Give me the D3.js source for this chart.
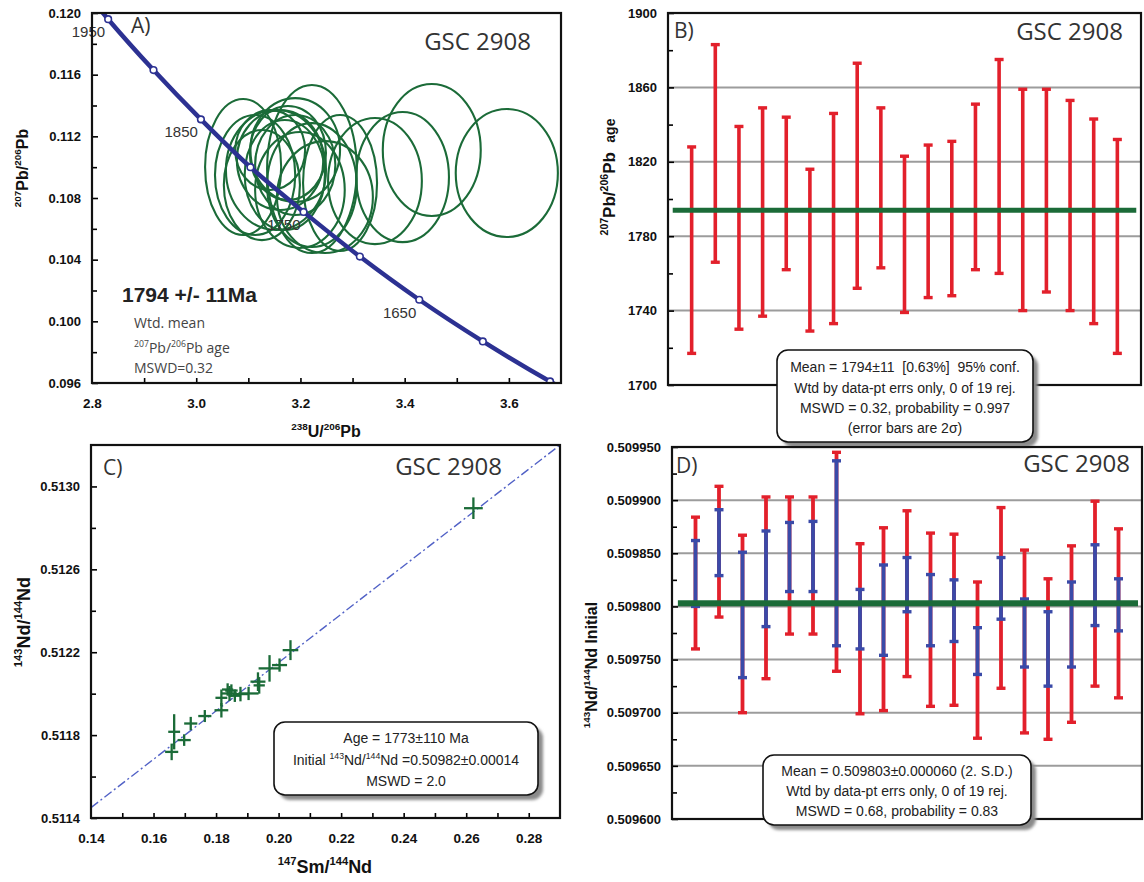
<!DOCTYPE html>
<html><head><meta charset="utf-8">
<script src="https://cdn.jsdelivr.net/npm/d3@7"></script>
<style>html,body{margin:0;padding:0;background:#fff;} svg{display:block;}</style>
</head><body>
<svg id="chart" width="1144" height="882"></svg>
<script>
// ================= DATA =================
// Panel A — concordia curve and age markers
const concordiaAges = [2000, 1950, 1900, 1850, 1800, 1750, 1700, 1650, 1600, 1550, 1500];
const concordiaX = [2.749, 2.831, 2.918, 3.009, 3.104, 3.206, 3.314, 3.428, 3.550, 3.679, 3.817];
const concordiaY = [0.1230, 0.1196, 0.1163, 0.1131, 0.1100, 0.1071, 0.1042, 0.1014, 0.0987, 0.0961, 0.0936];
const concordiaMarkerAges = [1950, 1900, 1850, 1800, 1750, 1700, 1650, 1600, 1550];
const concordiaLabelAges = [1950, 1850, 1750, 1650];
// Panel A — error ellipses (centre and semi-axes, in data units)
const ellCX = [3.596, 3.452, 3.396, 3.343, 3.276, 3.222, 3.090, 3.113, 3.126, 3.153, 3.161, 3.176, 3.170, 3.190, 3.199, 3.222, 3.247, 3.142, 3.190];
const ellCY = [0.10962, 0.11111, 0.10936, 0.10910, 0.10897, 0.10988, 0.11001, 0.10949, 0.10884, 0.10982, 0.11046, 0.11092, 0.10949, 0.11014, 0.10852, 0.10884, 0.10806, 0.11111, 0.11111];
const ellRX = [0.098, 0.094, 0.089, 0.090, 0.071, 0.086, 0.073, 0.077, 0.073, 0.096, 0.083, 0.073, 0.077, 0.077, 0.086, 0.086, 0.092, 0.067, 0.086];
const ellRY = [0.00415, 0.00428, 0.00422, 0.00409, 0.00441, 0.00545, 0.00441, 0.00389, 0.00357, 0.00389, 0.00324, 0.00305, 0.00357, 0.00324, 0.00376, 0.00402, 0.00363, 0.00259, 0.00337];
const aYTicks = [0.096, 0.100, 0.104, 0.108, 0.112, 0.116, 0.120];
const aYMinor = [0.098, 0.102, 0.106, 0.110, 0.114, 0.118];
const aXTicks = [2.8, 3.0, 3.2, 3.4, 3.6];
const aXMinor = [2.9, 3.0, 3.1, 3.2, 3.3, 3.4, 3.5, 3.6];
const aMeanAge = "1794 +/- 11Ma";

// Panel B — 207Pb/206Pb ages, 2σ error bars
const bHigh = [1828, 1883, 1839, 1849, 1844, 1816, 1846, 1873, 1849, 1823, 1829, 1831, 1851, 1875, 1859, 1859, 1853, 1843, 1832];
const bLow  = [1717, 1766, 1730, 1737, 1762, 1729, 1733, 1752, 1763, 1739, 1747, 1748, 1762, 1760, 1740, 1750, 1740, 1733, 1717];
const bMean = 1794;
const bYTicks = [1700, 1740, 1780, 1820, 1860, 1900];
const bYMinor = [1720, 1760, 1800, 1840, 1880];
const bGrid = [1740, 1780, 1820, 1860];

// Panel C — Sm–Nd isochron data
const cSmNd  = [0.2623, 0.2038, 0.2003, 0.1971, 0.1934, 0.1904, 0.1878, 0.1843, 0.1849, 0.1817, 0.1817, 0.1764, 0.1719, 0.1698, 0.1666, 0.1658, 0.1837, 0.1860, 0.1938];
const cNdNd  = [0.512895, 0.512210, 0.512138, 0.512122, 0.512058, 0.512001, 0.511998, 0.512001, 0.512015, 0.511980, 0.511920, 0.511892, 0.511856, 0.511776, 0.511816, 0.511719, 0.512020, 0.511990, 0.512040];
const cSmErr = [0.0030, 0.0025, 0.0024, 0.0035, 0.0024, 0.0032, 0.0024, 0.0024, 0.0020, 0.0019, 0.0022, 0.0021, 0.0021, 0.0021, 0.0019, 0.0021, 0.0018, 0.0020, 0.0018];
const cNdErr = [0.000052, 0.000048, 0.000032, 0.000064, 0.000045, 0.000032, 0.000035, 0.000036, 0.000030, 0.000040, 0.000035, 0.000029, 0.000032, 0.000028, 0.000085, 0.000040, 0.000030, 0.000030, 0.000040];
const isochronX = [0.14, 0.29];
const isochronY = [0.51145, 0.51320];
const cXTicks = [0.14, 0.16, 0.18, 0.20, 0.22, 0.24, 0.26, 0.28];
const cXMinor = [0.15, 0.16, 0.17, 0.18, 0.19, 0.20, 0.21, 0.22, 0.23, 0.24, 0.25, 0.26, 0.27, 0.28];
const cYTicks = [0.5114, 0.5118, 0.5122, 0.5126, 0.5130];
const cYMinor = [0.5116, 0.5120, 0.5124, 0.5128];

// Panel D — initial 143Nd/144Nd, red = outer errors, blue = inner errors
const dRedHigh  = [0.509884, 0.509913, 0.509867, 0.509903, 0.509903, 0.509903, 0.509945, 0.509859, 0.509874, 0.509890, 0.509869, 0.509868, 0.509823, 0.509893, 0.509853, 0.509826, 0.509857, 0.509899, 0.509873];
const dRedLow   = [0.509760, 0.509790, 0.509700, 0.509732, 0.509774, 0.509774, 0.509739, 0.509699, 0.509702, 0.509734, 0.509706, 0.509707, 0.509676, 0.509723, 0.509681, 0.509675, 0.509691, 0.509725, 0.509714];
const dBlueHigh = [0.509862, 0.509891, 0.509851, 0.509871, 0.509879, 0.509880, 0.509937, 0.509816, 0.509839, 0.509846, 0.509830, 0.509825, 0.509780, 0.509846, 0.509807, 0.509795, 0.509823, 0.509858, 0.509826];
const dBlueLow  = [0.509800, 0.509829, 0.509733, 0.509781, 0.509814, 0.509814, 0.509763, 0.509760, 0.509754, 0.509795, 0.509763, 0.509767, 0.509736, 0.509788, 0.509743, 0.509725, 0.509743, 0.509782, 0.509777];
const dMean = 0.509803;
const dYTicks = [0.509600, 0.509650, 0.509700, 0.509750, 0.509800, 0.509850, 0.509900, 0.509950];
const dYMinor = [0.509625, 0.509675, 0.509725, 0.509775, 0.509825, 0.509875, 0.509925];
const dGrid = [0.509650, 0.509700, 0.509750, 0.509800, 0.509850, 0.509900];

const sampleName = "GSC 2908";

// ================= STYLE =================
const F1 = "'Liberation Sans', Arial, sans-serif";
const F2 = "'Open Sans', 'Noto Sans', sans-serif";
const RED = "#e2202b", BLUE = "#3a4aa8", GREEN = "#1b6b38", NAVY = "#2c3192", GRID = "#9c9c9c";

const svg = d3.select("#chart");
const defs = svg.append("defs");
defs.append("filter").attr("id", "blur").attr("x", "-10%").attr("y", "-10%").attr("width", "130%").attr("height", "140%")
  .append("feGaussianBlur").attr("stdDeviation", 1.6);

function rich(text, parts, fs) {
  let cur = 0;
  parts.forEach(p => {
    const target = p.sup ? -fs * 0.42 : 0;
    const ts = text.append("tspan").text(p.t).attr("dy", target - cur);
    if (p.sup) ts.attr("font-size", fs * 0.62);
    if (p.fs) ts.attr("font-size", p.fs);
    if (p.w) ts.attr("font-weight", p.w);
    cur = target;
  });
  return text;
}

function yAxis(g, scale, x0, majors, minors, fmt) {
  const a = g.append("g").attr("transform", `translate(${x0},0)`)
    .call(d3.axisLeft(scale).tickValues(majors).tickFormat(fmt).tickSize(-6).tickPadding(11));
  a.select(".domain").remove();
  a.attr("font-family", F1).attr("font-size", 13).attr("font-weight", "bold");
  a.selectAll("text").attr("fill", "#111");
  a.selectAll("line").attr("stroke-width", 1.6);
  const m = g.append("g").attr("transform", `translate(${x0},0)`)
    .call(d3.axisLeft(scale).tickValues(minors).tickFormat("").tickSize(-5));
  m.select(".domain").remove();
  m.selectAll("line").attr("stroke-width", 1.6);
}
function xAxis(g, scale, y0, majors, minors, fmt) {
  const m = g.append("g").attr("transform", `translate(0,${y0})`)
    .call(d3.axisBottom(scale).tickValues(minors).tickFormat("").tickSize(-5));
  m.select(".domain").remove();
  m.selectAll("line").attr("stroke-width", 1.6);
  const a = g.append("g").attr("transform", `translate(0,${y0})`)
    .call(d3.axisBottom(scale).tickValues(majors).tickFormat(fmt).tickSize(0).tickPadding(15));
  a.select(".domain").remove();
  a.attr("font-family", F1).attr("font-size", 13.5).attr("font-weight", "bold");
  a.selectAll("text").attr("fill", "#111");
}
function frame(g, xs, ys) {
  const [x0, x1] = xs.range(), [y0, y1] = ys.range();
  g.append("rect").attr("x", Math.min(x0, x1)).attr("y", Math.min(y0, y1))
    .attr("width", Math.abs(x1 - x0)).attr("height", Math.abs(y1 - y0))
    .attr("fill", "none").attr("stroke", "#111").attr("stroke-width", 2.2);
}
function label(g, x, y, t, anchor) {
  g.append("text").attr("x", x).attr("y", y).attr("text-anchor", anchor || "start")
    .attr("font-family", F2).attr("font-size", 24).attr("fill", "#333").text(t);
}
function letter(g, x, y, t) {
  g.append("text").attr("x", x).attr("y", y).attr("font-family", F2)
    .attr("font-size", 21).attr("fill", "#333").text(t);
}
function infoBox(g, x0, y0, x1, y1, lines, baselines) {
  g.append("rect").attr("x", x0 + 5).attr("y", y0 + 5).attr("width", x1 - x0).attr("height", y1 - y0)
    .attr("rx", 11).attr("fill", "#8a8a8a").attr("filter", "url(#blur)");
  g.append("rect").attr("x", x0).attr("y", y0).attr("width", x1 - x0).attr("height", y1 - y0)
    .attr("rx", 11).attr("fill", "#fff").attr("stroke", "#111").attr("stroke-width", 1.6);
  lines.forEach((parts, i) => {
    const t = g.append("text").attr("x", (x0 + x1) / 2).attr("y", baselines[i]).attr("text-anchor", "middle")
      .attr("font-family", F1).attr("font-size", 14).attr("fill", "#222").style("white-space", "pre");
    rich(t, parts, 14);
  });
}
function errBar(g, x, yHi, yLo, color, cap, w) {
  g.append("line").attr("x1", x).attr("x2", x).attr("y1", yHi).attr("y2", yLo).attr("stroke", color).attr("stroke-width", w);
  [yHi, yLo].forEach(y => g.append("line").attr("x1", x - cap).attr("x2", x + cap).attr("y1", y).attr("y2", y)
    .attr("stroke", color).attr("stroke-width", 3.4));
}

// ================= PANEL A =================
{
  const g = svg.append("g");
  const x = d3.scaleLinear().domain([2.8, 3.7]).range([92, 561]);
  const y = d3.scaleLinear().domain([0.096, 0.120]).range([383, 13]);
  defs.append("clipPath").attr("id", "clipA").append("rect").attr("x", 92).attr("y", 13).attr("width", 469).attr("height", 370);
  const pg = g.append("g").attr("clip-path", "url(#clipA)");

  // ellipses
  pg.selectAll("ellipse").data(d3.range(ellCX.length)).join("ellipse")
    .attr("cx", i => x(ellCX[i])).attr("cy", i => y(ellCY[i]))
    .attr("rx", i => x(ellCX[i] + ellRX[i]) - x(ellCX[i]))
    .attr("ry", i => y(ellCY[i]) - y(ellCY[i] + ellRY[i]))
    .attr("fill", "none").attr("stroke", GREEN).attr("stroke-width", 2.1);

  // concordia
  const pts = concordiaAges.map((a, i) => ({ a, x: concordiaX[i], y: concordiaY[i] }));
  pg.append("path").datum(pts)
    .attr("d", d3.line().x(d => x(d.x)).y(d => y(d.y)).curve(d3.curveCatmullRom))
    .attr("fill", "none").attr("stroke", NAVY).attr("stroke-width", 4.5);
  pg.selectAll("circle").data(pts.filter(d => concordiaMarkerAges.includes(d.a))).join("circle")
    .attr("cx", d => x(d.x)).attr("cy", d => y(d.y)).attr("r", 3.3)
    .attr("fill", "#fff").attr("stroke", NAVY).attr("stroke-width", 1.6);
  g.selectAll("text.age").data(pts.filter(d => concordiaLabelAges.includes(d.a))).join("text")
    .attr("class", "age").attr("x", d => x(d.x) - 3).attr("y", d => y(d.y) + 18).attr("text-anchor", "end")
    .attr("font-family", F1).attr("font-size", 15).attr("fill", "#333").text(d => d.a);

  yAxis(g, y, 92, aYTicks, aYMinor, d3.format(".3f"));
  xAxis(g, x, 383, aXTicks, aXMinor, d3.format(".1f"));
  frame(g, x, y);

  letter(g, 131, 33, "A)");
  label(g, 531, 50, sampleName, "end");
  g.append("text").attr("x", 122).attr("y", 302).attr("font-family", F1).attr("font-weight", "bold")
    .attr("font-size", 21).attr("fill", "#222").text(aMeanAge);
  g.append("text").attr("x", 134).attr("y", 328).attr("font-family", F2).attr("font-size", 14).attr("fill", "#444").text("Wtd. mean");
  rich(g.append("text").attr("x", 134).attr("y", 353).attr("font-family", F2).attr("font-size", 14).attr("fill", "#444"),
    [{ t: "207", sup: true }, { t: "Pb/" }, { t: "206", sup: true }, { t: "Pb age" }], 14);
  g.append("text").attr("x", 134).attr("y", 373).attr("font-family", F2).attr("font-size", 14).attr("fill", "#444").text("MSWD=0.32");

  rich(g.append("text").attr("transform", "translate(28,168) rotate(-90)").attr("text-anchor", "middle")
    .attr("font-family", F1).attr("font-weight", "bold").attr("font-size", 16).attr("fill", "#111"),
    [{ t: "207", sup: true }, { t: "Pb/" }, { t: "206", sup: true }, { t: "Pb" }], 16);
  rich(g.append("text").attr("x", 326).attr("y", 437).attr("text-anchor", "middle")
    .attr("font-family", F1).attr("font-weight", "bold").attr("font-size", 16).attr("fill", "#111"),
    [{ t: "238", sup: true }, { t: "U/" }, { t: "206", sup: true }, { t: "Pb" }], 16);
}

// ================= PANEL B =================
{
  const g = svg.append("g");
  const x = d3.scaleLinear().domain([0, 20]).range([668, 1141]);
  const y = d3.scaleLinear().domain([1700, 1900]).range([385, 13]);
  g.selectAll("line.grid").data(bGrid).join("line").attr("class", "grid")
    .attr("x1", x(0)).attr("x2", x(20)).attr("y1", d => y(d)).attr("y2", d => y(d))
    .attr("stroke", GRID).attr("stroke-width", 2);
  bHigh.forEach((h, i) => errBar(g, x(i + 1), y(h), y(bLow[i]), RED, 4.5, 3.6));
  g.append("line").attr("x1", x(0.2)).attr("x2", x(19.8)).attr("y1", y(bMean)).attr("y2", y(bMean))
    .attr("stroke", GREEN).attr("stroke-width", 5);
  yAxis(g, y, 668, bYTicks, bYMinor, d3.format("d"));
  frame(g, x, y);
  letter(g, 674, 38, "B)");
  label(g, 1123, 40, sampleName, "end");
  rich(g.append("text").attr("transform", "translate(615,177) rotate(-90)").attr("text-anchor", "middle")
    .attr("font-family", F1).attr("font-weight", "bold").attr("font-size", 17).attr("fill", "#111").style("white-space", "pre"),
    [{ t: "207", sup: true }, { t: "Pb/" }, { t: "206", sup: true }, { t: "Pb  " }, { t: "age", fs: 14 }], 17);
  infoBox(g, 777, 350, 1033, 442, [
    [{ t: "Mean = 1794±11  [0.63%]  95% conf." }],
    [{ t: "Wtd by data-pt errs only, 0 of 19 rej." }],
    [{ t: "MSWD = 0.32, probability = 0.997" }],
    [{ t: "(error bars are 2σ)" }]
  ], [372, 393, 413, 433]);
}

// ================= PANEL C =================
{
  const g = svg.append("g");
  const x = d3.scaleLinear().domain([0.14, 0.29]).range([91, 560]);
  const y = d3.scaleLinear().domain([0.5114, 0.5132]).range([818, 445]);
  g.append("line").attr("x1", x(isochronX[0])).attr("y1", y(isochronY[0]))
    .attr("x2", x(isochronX[1])).attr("y2", y(isochronY[1]))
    .attr("stroke", "#5161c6").attr("stroke-width", 1.4).attr("stroke-dasharray", "9,3,2,3");
  cSmNd.forEach((sx, i) => {
    const cx = x(sx), cy = y(cNdNd[i]);
    g.append("line").attr("x1", x(sx - cSmErr[i])).attr("x2", x(sx + cSmErr[i])).attr("y1", cy).attr("y2", cy)
      .attr("stroke", GREEN).attr("stroke-width", 2.3);
    g.append("line").attr("x1", cx).attr("x2", cx).attr("y1", y(cNdNd[i] + cNdErr[i])).attr("y2", y(cNdNd[i] - cNdErr[i]))
      .attr("stroke", GREEN).attr("stroke-width", 2.3);
  });
  yAxis(g, y, 91, cYTicks, cYMinor, d3.format(".4f"));
  xAxis(g, x, 818, cXTicks, cXMinor, d3.format(".2f"));
  frame(g, x, y);
  letter(g, 103, 475, "C)");
  label(g, 502, 475, sampleName, "end");
  infoBox(g, 274, 722, 538, 795, [
    [{ t: "Age = 1773±110 Ma" }],
    [{ t: "Initial " }, { t: "143", sup: true }, { t: "Nd/" }, { t: "144", sup: true }, { t: "Nd =0.50982±0.00014" }],
    [{ t: "MSWD = 2.0" }]
  ], [743, 765, 786]);
  rich(g.append("text").attr("transform", "translate(30,622) rotate(-90)").attr("text-anchor", "middle")
    .attr("font-family", F1).attr("font-weight", "bold").attr("font-size", 18).attr("fill", "#111"),
    [{ t: "143", sup: true }, { t: "Nd/" }, { t: "144", sup: true }, { t: "Nd" }], 18);
  rich(g.append("text").attr("x", 325).attr("y", 873).attr("text-anchor", "middle")
    .attr("font-family", F1).attr("font-weight", "bold").attr("font-size", 18).attr("fill", "#111"),
    [{ t: "147", sup: true }, { t: "Sm/" }, { t: "144", sup: true }, { t: "Nd" }], 18);
}

// ================= PANEL D =================
{
  const g = svg.append("g");
  const x = d3.scaleLinear().domain([0, 20]).range([672, 1142]);
  const y = d3.scaleLinear().domain([0.509600, 0.509950]).range([819, 447]);
  g.selectAll("line.grid").data(dGrid).join("line").attr("class", "grid")
    .attr("x1", x(0)).attr("x2", x(20)).attr("y1", d => y(d)).attr("y2", d => y(d))
    .attr("stroke", GRID).attr("stroke-width", 2);
  dRedHigh.forEach((h, i) => errBar(g, x(i + 1), y(h), y(dRedLow[i]), RED, 4.5, 3.8));
  dBlueHigh.forEach((h, i) => errBar(g, x(i + 1), y(h), y(dBlueLow[i]), BLUE, 4.5, 3.8));
  g.append("line").attr("x1", x(0.25)).attr("x2", x(19.83)).attr("y1", y(dMean)).attr("y2", y(dMean))
    .attr("stroke", GREEN).attr("stroke-width", 6);
  yAxis(g, y, 672, dYTicks, dYMinor, d3.format(".6f"));
  frame(g, x, y);
  letter(g, 676, 473, "D)");
  label(g, 1130, 472, sampleName, "end");
  infoBox(g, 763, 755, 1031, 825, [
    [{ t: "Mean = 0.509803±0.000060 (2. S.D.)" }],
    [{ t: "Wtd by data-pt errs only, 0 of 19 rej." }],
    [{ t: "MSWD = 0.68, probability = 0.83" }]
  ], [776, 796, 816]);
  rich(g.append("text").attr("transform", "translate(597,665) rotate(-90)").attr("text-anchor", "middle")
    .attr("font-family", F1).attr("font-weight", "bold").attr("font-size", 16).attr("fill", "#111"),
    [{ t: "143", sup: true }, { t: "Nd/" }, { t: "144", sup: true }, { t: "Nd Initial" }], 16);
}
</script>
</body></html>
